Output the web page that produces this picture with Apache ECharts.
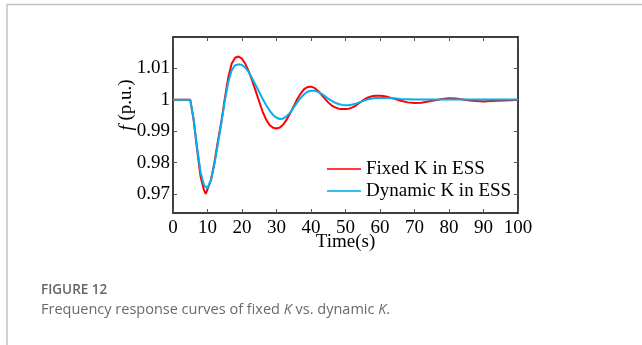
<!DOCTYPE html>
<html>
<head>
<meta charset="utf-8">
<script src="https://cdn.jsdelivr.net/npm/echarts@6/dist/echarts.min.js"></script>
<style>
  html, body { margin: 0; padding: 0; background: #fff; }
  #main { width: 642px; height: 345px; }
</style>
</head>
<body>
<div id="main"></div>
<script>
// Fixed K in ESS (red)
var fixedT = [0, 5, 6, 7, 8, 9, 9.5, 10, 11, 12, 13, 14, 15, 16, 17, 18, 19, 20, 21, 22, 23, 24, 25, 26, 27, 28, 29, 30,
  31, 32, 33, 34, 35, 36, 37, 38, 39, 40, 41, 42, 43, 44, 45, 46, 47, 48, 49, 50, 51, 52, 53, 54, 55, 56, 57, 58, 59, 60,
  61, 62, 64, 66, 68, 70, 72, 74, 76, 78, 80, 82, 84, 86, 88, 90, 92, 94, 96, 98, 100];
var fixedF = [1, 1, 0.9935, 0.9840, 0.9755, 0.9712, 0.9701, 0.9703, 0.9745, 0.9800, 0.9868, 0.9929, 1.0003, 1.0070, 1.0115, 1.0134, 1.0138, 1.0131, 1.0114, 1.0089, 1.0060, 1.0027, 0.9994, 0.9962, 0.9937, 0.9920, 0.9911, 0.9909,
  0.9912, 0.9922, 0.9938, 0.9958, 0.9980, 1.0002, 1.0020, 1.0034, 1.0041, 1.0042, 1.0038, 1.0029, 1.0017, 1.0004, 0.9992, 0.9982, 0.9976, 0.9972, 0.9971, 0.9971, 0.9972, 0.9976, 0.9982, 0.9990, 0.9998, 1.0005, 1.0009, 1.0012, 1.0013, 1.0013,
  1.0012, 1.0010, 1.0004, 0.9997, 0.9992, 0.9990, 0.9991, 0.9995, 0.9999, 1.0003, 1.0005, 1.0004, 1.0001, 0.9998, 0.9996, 0.9995, 0.9996, 0.9997, 0.9998, 0.9999, 1.0000];

// Dynamic K in ESS (blue)
var dynT = [0, 5, 6, 7, 8, 9, 10, 11, 12, 13, 14, 15, 16, 17, 18, 19, 20, 21, 22, 23, 24, 25, 26, 27, 28, 29, 30,
  31, 32, 33, 34, 35, 36, 37, 38, 39, 40, 41, 42, 43, 44, 45, 46, 47, 48, 49, 50, 51, 52, 53, 54, 55, 56, 57, 58, 59, 60,
  62, 64, 66, 68, 70, 72, 76, 80, 85, 90, 95, 100];
var dynF = [1, 1, 0.9938, 0.9848, 0.9770, 0.9728, 0.9719, 0.9745, 0.9795, 0.9860, 0.9925, 0.9995, 1.0055, 1.0094, 1.0110, 1.0113, 1.0111, 1.0102, 1.0087, 1.0067, 1.0046, 1.0024, 1.0003, 0.9983, 0.9966, 0.9952, 0.9943,
  0.9939, 0.9941, 0.9948, 0.9960, 0.9976, 0.9992, 1.0006, 1.0018, 1.0026, 1.0029, 1.0029, 1.0026, 1.0020, 1.0012, 1.0004, 0.9997, 0.9991, 0.9987, 0.9984, 0.9983, 0.9983, 0.9985, 0.9988, 0.9992, 0.9996, 1.0000, 1.0003, 1.0005, 1.0006, 1.0006,
  1.0006, 1.0005, 1.0003, 1.0002, 1.0001, 1.0001, 1.0001, 1.0001, 1.0001, 1.0001, 1.0001, 1.0001];

var yTicks = [0.97, 0.98, 0.99, 1, 1.01];
var seriesNames = ['Fixed K in ESS', 'Dynamic K in ESS'];

var pairs = function (t, f) {
  return t.map(function (v, i) { return [v, f[i]]; });
};

var serif = 'Liberation Serif';
var sans = 'Open Sans';

var myChart = echarts.init(document.getElementById('main'));

var xAxisBase = {
  type: 'value',
  min: 0,
  max: 100,
  interval: 10,
  axisLine: { show: true, onZero: false, lineStyle: { color: '#000', width: 1.5 } },
  axisTick: { show: true, inside: true, length: 4, lineStyle: { color: '#555', width: 1 } },
  splitLine: { show: false }
};
var yAxisBase = {
  type: 'value',
  min: 0.964,
  max: 1.02,
  axisLine: { show: true, onZero: false, lineStyle: { color: '#000', width: 1.5 } },
  axisTick: { show: true, inside: true, length: 4, customValues: yTicks, lineStyle: { color: '#555', width: 1 } },
  splitLine: { show: false }
};

var option = {
  animation: false,
  backgroundColor: '#fff',
  grid: { left: 173, top: 37, right: 124, bottom: 132, containLabel: false },
  xAxis: [
    Object.assign({}, xAxisBase, {
      position: 'bottom',
      name: 'Time(s)',
      nameLocation: 'middle',
      nameGap: 20,
      nameMoveOverlap: false,
      nameTextStyle: { fontFamily: serif, fontSize: 19, color: '#000' },
      axisLabel: { show: true, margin: 6, fontFamily: serif, fontSize: 19, color: '#000' }
    }),
    Object.assign({}, xAxisBase, { position: 'top', axisLabel: { show: false } })
  ],
  yAxis: [
    Object.assign({}, yAxisBase, {
      position: 'left',
      name: '{i|f} (p.u.)',
      nameLocation: 'middle',
      nameRotate: 90,
      nameGap: 37,
      nameMoveOverlap: false,
      nameTextStyle: {
        fontFamily: serif, fontSize: 19, color: '#000', padding: [0, 0, 0, 40],
        rich: { i: { fontFamily: serif, fontSize: 19, fontStyle: 'italic', color: '#000' } }
      },
      axisLabel: { show: true, margin: 3, customValues: yTicks, fontFamily: serif, fontSize: 19, color: '#000' }
    }),
    Object.assign({}, yAxisBase, { position: 'right', axisLabel: { show: false } })
  ],
  legend: {
    orient: 'vertical',
    left: 322,
    top: 154,
    icon: 'rect',
    itemWidth: 34,
    itemHeight: 2,
    itemGap: 2,
    data: seriesNames,
    textStyle: { fontFamily: serif, fontSize: 19, color: '#000', lineHeight: 20 }
  },
  series: [
    {
      name: seriesNames[0],
      type: 'line',
      symbol: 'none',
      data: pairs(fixedT, fixedF),
      lineStyle: { color: '#ff0000', width: 2 },
      itemStyle: { color: '#ff3b3b' },
      z: 2
    },
    {
      name: seriesNames[1],
      type: 'line',
      symbol: 'none',
      data: pairs(dynT, dynF),
      lineStyle: { color: '#00b0f0', width: 2 },
      itemStyle: { color: '#33bff0' },
      z: 3
    }
  ],
  graphic: [
    {
      type: 'polyline',
      shape: { points: [[7, 345], [7, 4.5], [642, 4.5]] },
      style: { stroke: '#c4c4c4', lineWidth: 1.5, fill: null },
      silent: true
    },
    {
      type: 'text',
      left: 41,
      top: 283,
      style: { text: 'FIGURE 12', fontFamily: sans, fontSize: 13.5, fontWeight: 600, fill: '#666' }
    },
    {
      type: 'text',
      left: 41,
      top: 302,
      style: {
        text: 'Frequency response curves of fixed {i|K} vs. dynamic {i|K}.',
        fontFamily: sans, fontSize: 14.5, fill: '#6a6a6a',
        rich: { i: { fontFamily: sans, fontSize: 14.5, fontStyle: 'italic', fill: '#6a6a6a' } }
      }
    }
  ]
};

myChart.setOption(option);
</script>
</body>
</html>
